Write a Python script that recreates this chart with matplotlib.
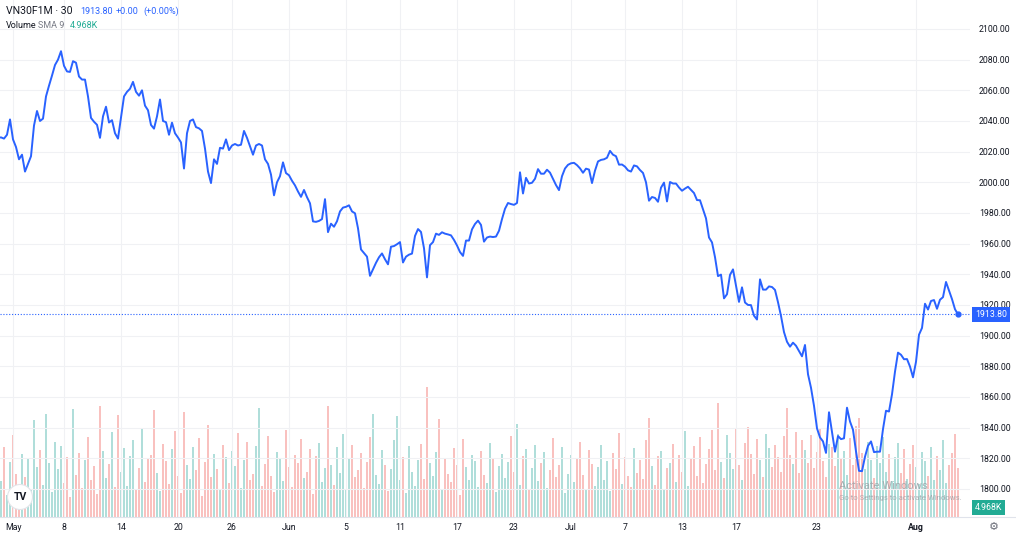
import numpy as np
import matplotlib
matplotlib.use('Agg')
import matplotlib.pyplot as plt
import matplotlib.transforms as mtransforms
from matplotlib.patches import Ellipse
from matplotlib.lines import Line2D

# close price per 30 min bar (first value is the bar just left of the view)
price = [2029, 2029.3, 2028.5, 2031, 2041, 2028, 2023, 2015, 2018, 2007,
         2012, 2017, 2037, 2046.5, 2040, 2041.5, 2056, 2063, 2069.6, 2076.5,
         2080, 2085.5, 2076, 2072.3, 2072, 2079, 2078, 2069, 2067, 2067,
         2056, 2042, 2039.5, 2037.5, 2029, 2043, 2049.3, 2039, 2040.5, 2032,
         2028.5, 2042, 2056, 2059, 2061, 2065.5, 2059, 2056.5, 2060, 2050,
         2047, 2037.4, 2035, 2043, 2054, 2040, 2039.2, 2031, 2038.9, 2032,
         2029.2, 2026, 2009, 2032, 2040, 2041, 2036, 2035.2, 2033.5, 2022,
         2007, 1999.5, 2015, 2012, 2022.5, 2022, 2028, 2021, 2024, 2025,
         2024, 2024.5, 2033.5, 2029, 2023.4, 2018, 2024, 2025, 2024, 2015,
         2012, 2005, 1991.5, 2000, 2004, 2013, 2006, 2004.6, 2001, 1998,
         1994, 1990.5, 1995, 1990.3, 1986.3, 1974.5, 1974.2, 1974.8, 1976, 1989,
         1967.5, 1973, 1971, 1974.6, 1981, 1983.5, 1984, 1985, 1981, 1979.8,
         1970, 1956.2, 1953.8, 1951.5, 1939, 1943.2, 1947.5, 1951.1, 1953.6, 1949.8,
         1946.5, 1958, 1958.4, 1959.6, 1961, 1947.7, 1951.5, 1952.8, 1953.5, 1965,
         1969.5, 1967.6, 1957, 1938, 1959, 1961, 1966.5, 1965.7, 1967.4, 1966.5,
         1966, 1965.4, 1962.4, 1958.8, 1954.5, 1952, 1962, 1962, 1969.3, 1972.8,
         1975, 1972.2, 1961.3, 1964, 1964.6, 1964.3, 1964.6, 1968.4, 1976, 1982.7,
         1986.5, 1985.8, 1985.3, 1986.5, 2006.5, 1992.7, 2002.9, 1999.2, 1999.7, 2002.3,
         2008.6, 2005.6, 2005.6, 2008.2, 2006.3, 2002.3, 1998.2, 1994.9, 2004, 2009,
         2011.4, 2012.4, 2012.7, 2011.2, 2009.1, 2006.2, 2008.9, 2008.3, 1999.5, 2007.6,
         2013.6, 2014.6, 2015, 2016, 2020.5, 2018, 2017, 2011.5, 2011.6, 2010.2,
         2007.8, 2007, 2011, 2010.4, 2008, 2006.1, 2000, 1988, 1990.4, 1989.8,
         1987.3, 1996.5, 1999.8, 1987.5, 2000.2, 1999.2, 1999.2, 1996.6, 1994.5, 1995.9,
         1997.1, 1995, 1993, 1988.4, 1988.3, 1982.5, 1976.5, 1964, 1960.8, 1951.2,
         1938.8, 1939.8, 1924.3, 1927, 1939.6, 1943.2, 1932.4, 1922, 1931.5, 1921.6,
         1920, 1919.9, 1913, 1910.5, 1936.7, 1930, 1930, 1932.1, 1931.7, 1929.8,
         1921.8, 1912.8, 1902.3, 1896, 1892.8, 1895.4, 1893.4, 1890, 1886.5, 1893.9,
         1874.8, 1866, 1854.2, 1839.5, 1833.6, 1831, 1823.5, 1850, 1837, 1824.3,
         1834.5, 1832.5, 1833, 1853, 1844, 1838.6, 1824.5, 1811.8, 1811.6, 1821,
         1828.1, 1831, 1824, 1824.3, 1824.3, 1839, 1851, 1850.5, 1861.7, 1876.5,
         1888.9, 1887.5, 1884.6, 1884.7, 1879.8, 1872.8, 1882.9, 1900.6, 1905, 1920.8,
         1917, 1922.6, 1923.2, 1917.5, 1923.4, 1925.1, 1935, 1929.5, 1923.8, 1917.2,
         1913.8]

# volume per bar, in K
volume = [3.5, 6.8, 2.1, 5.3, 7.9, 4.2, 1.8, 6.1, 3.9, 5.6,
          2.7, 9.4, 4.8, 6.5, 3.1, 10.0, 5.2, 2.4, 7.3, 4.6,
          6.9, 3.3, 5.8, 1.9, 10.4, 4.1, 6.2, 2.8, 5.5, 7.7,
          3.6, 4.9, 2.2, 10.7, 6.4, 3.8, 5.1, 8.2, 2.9, 9.9,
          4.4, 6.7, 3.0, 5.9, 7.4, 2.6, 4.7, 8.6, 3.4, 5.7,
          6.0, 10.3, 4.3, 2.5, 7.1, 5.4, 3.2, 6.6, 8.3, 4.0,
          2.3, 10.2, 5.0, 3.7, 6.8, 4.5, 7.6, 2.0, 5.3, 8.9,
          3.9, 6.1, 4.6, 2.7, 7.0, 5.8, 3.3, 6.4, 4.9, 8.1,
          2.8, 5.5, 7.3, 3.6, 4.2, 6.9, 10.5, 3.0, 5.1, 7.8,
          4.0, 2.4, 6.3, 5.7, 3.5, 8.4, 4.8, 2.9, 6.0, 5.2,
          7.5, 3.8, 4.4, 6.6, 2.2, 5.9, 7.2, 3.4, 4.7, 10.7,
          5.0, 3.1, 6.8, 4.3, 8.0, 2.6, 5.6, 7.0, 3.9, 4.5,
          6.2, 2.8, 5.3, 7.7, 10.0, 4.1, 3.2, 6.5, 5.0, 2.5,
          4.6, 7.4, 9.8, 3.6, 5.8, 2.3, 6.9, 4.4, 3.0, 5.5,
          7.1, 3.7, 12.6, 5.2, 4.0, 6.3, 9.5, 2.7, 5.7, 4.2,
          3.4, 6.7, 5.0, 2.1, 7.5, 4.8, 3.6, 6.0, 5.4, 2.9,
          6.4, 4.1, 3.3, 7.2, 5.6, 2.4, 4.9, 6.1, 3.8, 5.3,
          7.8, 4.4, 9.0, 3.1, 5.9, 6.6, 2.6, 4.7, 7.0, 3.5,
          5.2, 6.3, 2.8, 4.5, 7.6, 3.9, 5.0, 6.8, 2.3, 4.2,
          6.0, 3.4, 5.7, 7.3, 4.1, 2.7, 6.5, 5.1, 3.0, 4.8,
          7.0, 3.6, 5.4, 2.5, 6.2, 4.6, 8.1, 3.2, 5.8, 4.0,
          2.9, 6.7, 4.3, 5.5, 3.7, 7.4, 9.6, 4.9, 3.1, 5.9,
          6.4, 2.6, 4.7, 5.2, 7.1, 3.4, 6.0, 4.4, 8.3, 3.0,
          5.6, 6.9, 4.0, 7.7, 3.3, 5.1, 6.6, 8.4, 4.5, 11.0,
          5.3, 3.8, 7.9, 6.2, 4.6, 8.5, 5.0, 3.6, 7.2, 8.7,
          6.1, 4.2, 7.5, 5.5, 3.9, 8.0, 6.7, 4.8, 7.0, 5.8,
          4.4, 7.8, 10.5, 6.0, 5.1, 8.2, 4.3, 7.4, 6.5, 5.2,
          7.9, 4.7, 6.3, 8.6, 5.4, 3.9, 7.1, 6.8, 4.9, 8.0,
          5.7, 6.4, 4.1, 7.6, 5.0, 8.8, 9.6, 6.2, 4.6, 7.3,
          5.5, 3.8, 6.9, 5.2, 7.7, 4.4, 6.1, 3.5, 5.8, 7.2,
          4.3, 6.6, 3.7, 5.1, 7.0, 4.8, 3.2, 6.3, 5.4, 4.0,
          6.8, 3.6, 5.9, 4.5, 7.4, 3.3, 5.0, 6.2, 8.0, 4.7]

tick_bars = [4, 21, 40, 59, 77, 96, 115, 133, 152, 171, 190, 208, 227, 245, 272, 305]
tick_labels = ['May', '8', '14', '20', '26', 'Jun', '5', '11', '17', '23',
               'Jul', '7', '13', '17', '23', 'Aug']
last_price = 1913.80
vol_sma = '4.968K'

plt.rcParams['font.family'] = ['Roboto', 'DejaVu Sans']

W, H = 1016, 556
fig = plt.figure(figsize=(W / 100, H / 100), dpi=100, facecolor='white')
rect = [0, 39 / H, 970 / W, 517 / H]

# volume pane below, price pane on top
axv = fig.add_axes(rect)
ax = fig.add_axes(rect)
ax.patch.set_visible(False)

n = len(volume)
bar_x = np.arange(n)
price_x = np.arange(-1, len(price) - 1)
p = np.array(price)
up = p[1:] >= p[:-1]
colors = np.where(up, '#26a69a', '#ef5350')

axv.bar(bar_x, volume, width=0.36, color=colors, alpha=0.36, linewidth=0)
axv.set_ylim(0, 50)
axv.set_xlim(-1 / 3, 323)
axv.axis('off')

ax.plot(price_x, price, color='#2962ff', lw=1.4, solid_joinstyle='round', zorder=3)
ax.plot(price_x[-1], price[-1], 'o', ms=3.5, color='#2962ff', zorder=4)
ax.axhline(last_price, color='#2962ff', lw=0.8, ls=(0, (1, 1.6)), zorder=2)

ax.set_xlim(-1 / 3, 323)
ax.set_ylim(1781.7, 2118.9)
ax.yaxis.tick_right()
ax.set_yticks(np.arange(1800, 2101, 20))
ax.set_yticklabels(['%.2f' % v for v in np.arange(1800, 2101, 20)])
ax.set_xticks(tick_bars)
ax.set_xticklabels(tick_labels)
ax.get_xticklabels()[-1].set_fontweight('bold')
ax.tick_params(axis='y', length=0, pad=6.5, labelsize=6.3, labelcolor='#131722')
ax.tick_params(axis='x', length=0, pad=4, labelsize=6.3, labelcolor='#131722')
ax.grid(True, color='#f0f1f4', lw=0.8, zorder=0)
for s in ax.spines.values():
    s.set_visible(False)

# last price tag
trans = mtransforms.blended_transform_factory(ax.transAxes, ax.transData)
ax.text(975 / 970, last_price, '%.2f' % last_price, transform=trans, ha='left', va='center',
        fontsize=6.3, color='white',
        bbox=dict(boxstyle='square,pad=0.3', fc='#2962ff', ec='none'), clip_on=False)

# volume sma tag
fig.text(975 / W, 1 - 507.5 / H, vol_sma, ha='left', va='center', fontsize=6.3, color='white',
         bbox=dict(boxstyle='square,pad=0.35', fc='#22ab94', ec='none'))

fig.add_artist(Line2D([0, 1], [39 / H, 39 / H], color='#e0e3eb', lw=0.8))

# legend at top left
fig.text(6 / W, 1 - 11 / H, 'VN30F1M · 30', fontsize=7.6, color='#131722', va='center')
fig.text(80 / W, 1 - 11 / H, '%.2f' % last_price, fontsize=6.5, color='#2962ff', va='center')
fig.text(116 / W, 1 - 11 / H, '+0.00', fontsize=6.5, color='#2962ff', va='center')
fig.text(143 / W, 1 - 11 / H, '(+0.00%)', fontsize=6.5, color='#2962ff', va='center')
fig.text(6 / W, 1 - 26 / H, 'Volume', fontsize=6.5, color='#131722', va='center')
fig.text(38 / W, 1 - 26 / H, 'SMA 9', fontsize=6.5, color='#787b86', va='center')
fig.text(70 / W, 1 - 26 / H, vol_sma, fontsize=6.5, color='#22ab94', va='center')

# logo
fig.add_artist(Ellipse((20 / W, 1 - 497 / H), 25 / W, 25 / H, transform=fig.transFigure,
                       fc='white', ec='#e3e5ea', lw=0.8))
fig.text(20 / W, 1 - 497 / H, 'TV', ha='center', va='center', fontsize=7.5,
         fontweight='bold', color='#131722')

# settings icon
fig.text(994 / W, 1 - 527 / H, '\u2699', ha='center', va='center', fontsize=8,
         color='#6a6d78', family=['DejaVu Sans'])

# windows watermark
fig.text(839 / W, 1 - 486 / H, 'Activate Windows', fontsize=8, color='#9a9da3',
         alpha=0.75, va='center')
fig.text(839 / W, 1 - 498 / H, 'Go to Settings to activate Windows.', fontsize=5.6,
         color='#9a9da3', alpha=0.75, va='center')

fig.savefig('out.png', dpi=100, facecolor='white')
